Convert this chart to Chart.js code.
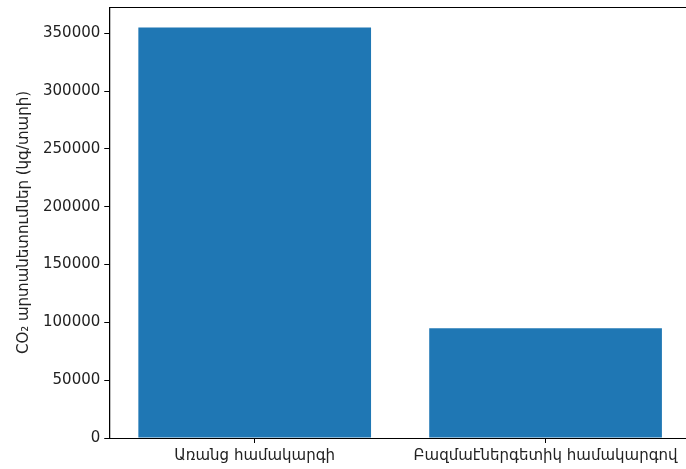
<!DOCTYPE html>
<html>
<head>
<meta charset="utf-8">
<script src="https://cdn.jsdelivr.net/npm/chart.js@4"></script>
<style>
  html, body { margin: 0; padding: 0; background: #fff; overflow: hidden; }
  #wrap { width: 700px; height: 475px; margin-top: -6px; }
</style>
</head>
<body>
<div id="wrap"><canvas id="co2Chart"></canvas></div>
<script>
// categories and values
const categories = ['Առանց համակարգի', 'Բազմաէներգետիկ համակարգով'];
const emissions = [355000, 95000];
const yTicks = [0, 50000, 100000, 150000, 200000, 250000, 300000, 350000];

const fontFamily = '"DejaVu Sans", sans-serif';

// frame around the plot area (matplotlib style spines)
const framePlugin = {
    id: 'frame',
    afterDraw(chart) {
        const a = chart.chartArea;
        const ctx = chart.ctx;
        ctx.save();
        ctx.strokeStyle = '#000';
        ctx.lineWidth = 1;
        ctx.strokeRect(a.left + 0.5, a.top + 0.5, a.right - a.left, a.bottom - a.top);
        ctx.restore();
    }
};

const config = {
    type: 'bar',
    data: {
        labels: categories,
        datasets: [{
            data: emissions,
            backgroundColor: '#1f77b4',
            borderWidth: 0,
            barPercentage: 0.8,
            categoryPercentage: 1.0
        }]
    },
    options: {
        responsive: true,
        maintainAspectRatio: false,
        animation: false,
        layout: { padding: { top: 1, right: 9, left: 15, bottom: 0 } },
        plugins: {
            legend: { display: false },
            tooltip: { enabled: false }
        },
        scales: {
            x: {
                offset: true,
                grid: { offset: false, drawOnChartArea: false, tickLength: 5, color: '#000' },
                border: { color: '#000' },
                ticks: { color: '#222', font: { family: fontFamily, size: 15 }, padding: 4, maxRotation: 0, autoSkip: false }
            },
            y: {
                min: 0,
                max: Math.max(...emissions) * 1.05,
                afterBuildTicks(axis) {
                    axis.ticks = yTicks.map(v => ({ value: v }));
                },
                grid: { drawOnChartArea: false, tickLength: 5, color: '#000' },
                border: { color: '#000' },
                ticks: {
                    color: '#222',
                    font: { family: fontFamily, size: 15 },
                    padding: 4,
                    callback: v => String(v)
                },
                title: {
                    display: true,
                    text: 'CO₂ արտանետումներ (կգ/տարի)',
                    color: '#222',
                    font: { family: fontFamily, size: 15 },
                    padding: { top: 0, bottom: 6 }
                }
            }
        }
    },
    plugins: [framePlugin]
};

new Chart(document.getElementById('co2Chart'), config);
</script>
</body>
</html>
